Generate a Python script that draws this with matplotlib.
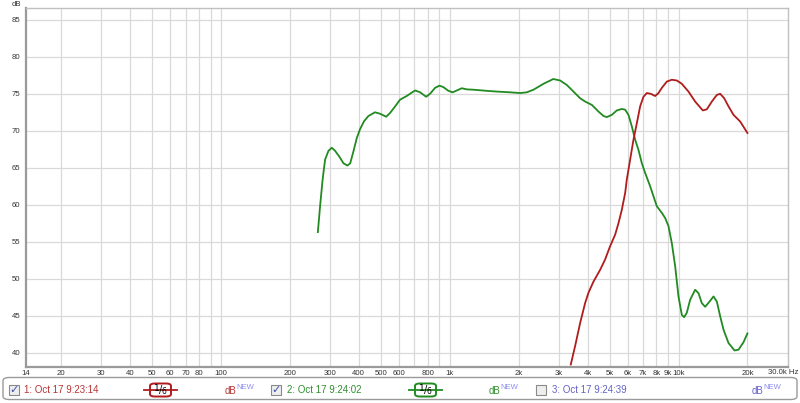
import matplotlib
matplotlib.use("Agg")
import matplotlib.pyplot as plt
from matplotlib.patches import FancyBboxPatch, Rectangle
from matplotlib.lines import Line2D

plt.rcParams['font.family'] = ['Liberation Sans', 'DejaVu Sans']

# ---- data ----
green_f = [265, 271, 278, 285, 295, 305, 315, 329, 343, 357, 367, 379, 392, 405, 422, 441,
           471, 496, 527, 548, 577, 606, 648, 705, 742, 788, 820, 862, 901, 938, 986,
           1030, 1073, 1128, 1187, 1269, 1451, 1605, 1835, 2029, 2171, 2322, 2567, 2792,
           2830, 3036, 3246, 3472, 3712, 3904, 4177, 4466, 4697, 4856, 5108, 5372, 5648,
           5843, 6040, 6247, 6460, 6682, 6911, 7145, 7512, 8035, 8451, 8740, 9036, 9345,
           9663, 9993, 10335, 10580, 10868, 11237, 11818, 12221, 12639, 13071, 13655,
           14219, 14705, 15207, 15727, 16534, 17565, 18282, 19223, 20000]
green_db = [56.3, 59.8, 63.4, 66.1, 67.3, 67.7, 67.3, 66.5, 65.6, 65.3, 65.6, 67.2, 69.0,
            70.2, 71.3, 72.0, 72.5, 72.3, 71.9, 72.4, 73.3, 74.2, 74.7, 75.45, 75.2, 74.6,
            75.0, 75.8, 76.1, 75.9, 75.4, 75.2, 75.45, 75.75, 75.6, 75.55, 75.4, 75.3,
            75.2, 75.1, 75.2, 75.55, 76.35, 76.9, 77.0, 76.8, 76.2, 75.3, 74.4, 73.95,
            73.5, 72.6, 72.0, 71.85, 72.15, 72.75, 72.95, 72.85, 72.15, 70.6, 68.8, 67.4,
            65.6, 64.3, 62.5, 59.8, 58.9, 58.2, 57.1, 54.8, 51.7, 47.6, 45.1, 44.8, 45.4,
            47.15, 48.5, 48.05, 46.7, 46.2, 46.9, 47.6, 46.9, 44.9, 43.1, 41.3, 40.3,
            40.4, 41.4, 42.6]

red_f = [3380, 3531, 3713, 3904, 4038, 4246, 4542, 4775, 5022, 5282, 5461, 5648, 5843,
         5940, 6143, 6352, 6569, 6793, 7025, 7264, 7561, 7900, 8171, 8451, 8886, 9345,
         9826, 10335, 11050, 11818, 12767, 13290, 13979, 14705, 15207, 15829, 16534,
         17388, 18597, 20000]
red_db = [38.4, 40.9, 44.0, 46.7, 48.1, 49.6, 51.2, 52.6, 54.4, 55.95, 57.5, 59.3, 61.6,
          63.4, 66.1, 68.8, 71.0, 73.3, 74.6, 75.1, 75.0, 74.7, 75.1, 75.8, 76.65, 76.9,
          76.8, 76.35, 75.3, 73.95, 72.75, 72.9, 73.95, 74.85, 75.0, 74.4, 73.3, 72.15,
          71.25, 69.7]

y_ticks = [40, 45, 50, 55, 60, 65, 70, 75, 80, 85]
x_grid = [20, 30, 40, 50, 60, 70, 80, 90, 100, 200, 300, 400, 500, 600, 700, 800, 900,
          1000, 2000, 3000, 4000, 5000, 6000, 7000, 8000, 9000, 10000, 20000]
x_label_pos = [14, 20, 30, 40, 50, 60, 70, 80, 100, 200, 300, 400, 500, 600, 800, 1000,
               2000, 3000, 4000, 5000, 6000, 7000, 8000, 9000, 10000, 20000]
x_labels = ['14', '20', '30', '40', '50', '60', '70', '80', '100', '200', '300', '400',
            '500', '600', '800', '1k', '2k', '3k', '4k', '5k', '6k', '7k', '8k', '9k',
            '10k', '20k']
x_last_label = '30.0k Hz'

legend_names = ['1: Oct 17 9:23:14', '2: Oct 17 9:24:02', '3: Oct 17 9:24:39']
legend_checked = [True, True, False]

RED = '#b01c1c'
GREEN = '#218a21'
BLUE = '#6363c8'
RED_TXT = '#b83333'
GREEN_TXT = '#2f8f2f'
NEW_C = '#8c8cf2'

W, H = 800, 403
fig = plt.figure(figsize=(W / 100, H / 100), dpi=100)
fig.patch.set_facecolor('white')

L, R, T, B = 25.7, 787.7, 8, 366.7
ax = fig.add_axes([L / W, 1 - B / H, (R - L) / W, (B - T) / H])
ax.set_xscale('log')
ax.set_xlim(14, 30000)
ax.set_ylim(38.1, 86.6)

for f in x_grid:
    ax.axvline(f, color='#d9d9d9', lw=0.9, zorder=1)
for y in y_ticks:
    ax.axhline(y, color='#d9d9d9', lw=0.9, zorder=1)

ax.plot(green_f, green_db, color=GREEN, lw=1.3, zorder=3, solid_joinstyle='round')
ax.plot(red_f, red_db, color=RED, lw=1.3, zorder=3, solid_joinstyle='round')

ax.set_xticks(x_label_pos)
ax.set_xticklabels(x_labels)
ax.xaxis.set_minor_locator(matplotlib.ticker.NullLocator())
ax.set_yticks(y_ticks)
ax.set_yticklabels([str(v) for v in y_ticks])
ax.tick_params(axis='both', length=0, labelsize=5.6, labelcolor='#333333', pad=2.5)
ax.tick_params(axis='y', pad=4)

for s in ['left', 'bottom']:
    ax.spines[s].set_color('#9a9a9a')
    ax.spines[s].set_linewidth(1.6)
for s in ['top', 'right']:
    ax.spines[s].set_color('#c0c0c0')
    ax.spines[s].set_linewidth(1.0)


def px(x, y):
    return x / W, 1 - y / H


fig.text(*px(12, 4), 'dB', fontsize=5.6, color='#333333', ha='left', va='center')
fig.text(*px(798, 372.5), x_last_label, fontsize=5.6, color='#333333', ha='right', va='center')

# legend panel
panel = FancyBboxPatch(px(3, 399.5), 794 / W, 22 / H, transform=fig.transFigure,
                       boxstyle='round,pad=0,rounding_size=0.008', fc='white',
                       ec='#9a9a9a', lw=1.0)
fig.patches.append(panel)

ycen = 390
colors_txt = [RED_TXT, GREEN_TXT, BLUE]
colors_line = [RED, GREEN, None]
cb_x = [9, 271, 536]
txt_x = [24, 287, 552]
frac_x = [160, 425, None]
db_x = [225, 489, 752]

for i in range(3):
    cx = cb_x[i]
    box = Rectangle(px(cx, ycen + 5), 10 / W, 10 / H, transform=fig.transFigure,
                    fc='#eeeeee', ec='#8a8a8a', lw=0.8)
    fig.patches.append(box)
    if legend_checked[i]:
        fig.text(*px(cx + 5.3, ycen), '\u2713', fontsize=8, color='#3b4fb0',
                 ha='center', va='center', family='DejaVu Sans', fontweight='bold')
    fig.text(*px(txt_x[i], ycen), legend_names[i], fontsize=7, color=colors_txt[i],
             ha='left', va='center')
    if frac_x[i] is not None:
        fx = frac_x[i]
        c = colors_line[i]
        fig.lines.append(Line2D([(fx - 16) / W, (fx + 17) / W], [1 - ycen / H] * 2,
                                transform=fig.transFigure, color=c, lw=1.3))
        fb = FancyBboxPatch(px(fx - 10, ycen + 6.5), 21 / W, 13 / H,
                            transform=fig.transFigure,
                            boxstyle='round,pad=0,rounding_size=0.006',
                            fc='white', ec=c, lw=1.4)
        fig.patches.append(fb)
        fig.text(*px(fx - 3.5, ycen - 1.2), '1', fontsize=6.5, color='black',
                 ha='center', va='center', family='DejaVu Sans')
        fig.text(*px(fx + 0.5, ycen), '/', fontsize=7, color='black',
                 ha='center', va='center', family='DejaVu Sans')
        fig.text(*px(fx + 4.2, ycen + 1.5), '6', fontsize=5.5, color='black',
                 ha='center', va='center', family='DejaVu Sans')
    dx = db_x[i]
    fig.text(*px(dx, ycen + 1), 'dB', fontsize=7, color=colors_txt[i], ha='left', va='center')
    fig.text(*px(dx + 11.5, ycen - 2.5), 'NEW', fontsize=5.5, color=NEW_C, ha='left', va='center')

fig.savefig('out.png', dpi=100)
